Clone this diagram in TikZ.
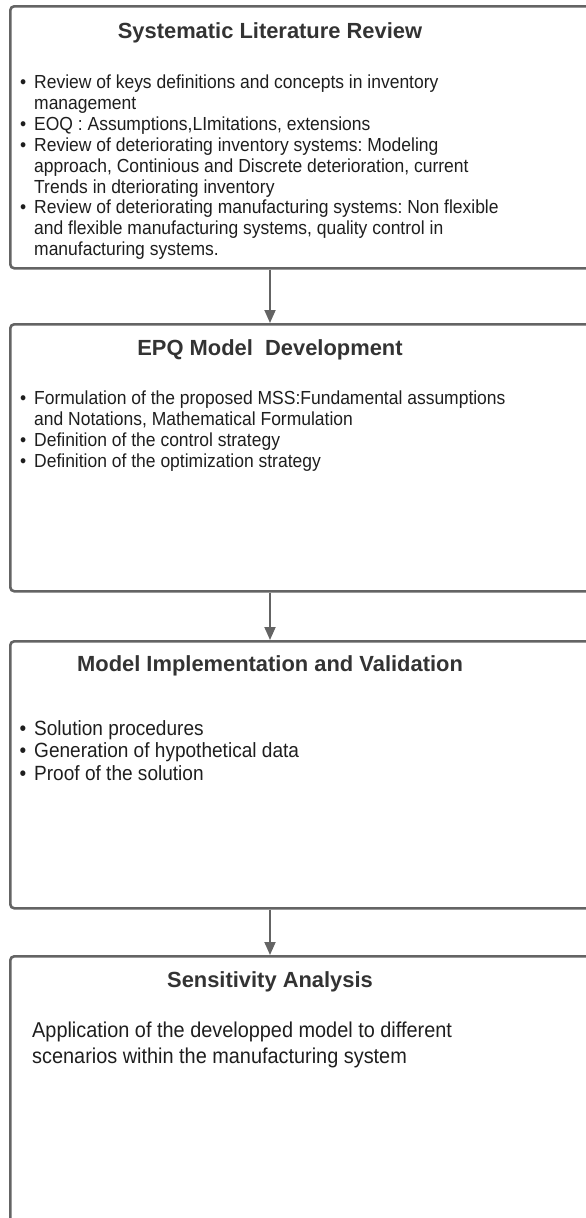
\documentclass[tikz,border=0pt]{standalone}
\usepackage{fontspec}
\setmainfont{Liberation Sans}
\newfontfamily\bodyfont[FakeStretch=0.925]{Liberation Sans}
\usetikzlibrary{arrows.meta}
\definecolor{frame}{HTML}{646464}
\definecolor{headtext}{HTML}{333333}
\definecolor{bodytext}{HTML}{1E1E1E}

% bullet hanging to the left of the text column
\newcommand{\bul}{\leavevmode\llap{\textbullet\hspace{8pt}}}
% text block whose baseline is that of its first line
\newcommand{\textblock}[3]{\begin{minipage}[t]{560pt}\bodyfont\fontsize{#1}{#2}\selectfont\frenchspacing\setlength{\parindent}{0pt}#3\end{minipage}}

\begin{document}
\begin{tikzpicture}[x=1pt,y=-1pt,
  panel/.style={draw=frame, line width=2.6pt, rounded corners=4pt, anchor=north west,
                minimum width=640pt, inner sep=0pt},
  heading/.style={font=\fontsize{21.9}{26}\selectfont\bfseries, text=headtext,
                  anchor=base, inner sep=0pt},
  body/.style={text=bodytext, anchor=base west, inner sep=0pt},
  flow/.style={draw=frame, line width=1.8pt, -{Triangle[width=11pt,length=13pt]}}]

\clip (0,0) rectangle (586,1218);

% panels
\node[panel, minimum height=262pt] (p1) at (9,5) {};
\node[panel, minimum height=267pt] (p2) at (9,323) {};
\node[panel, minimum height=267pt] (p3) at (9,640) {};
\node[panel, minimum height=340pt] (p4) at (9,955) {};

% headings
\node[heading] (h1) at (270,38) {Systematic Literature Review};
\node[heading] (h2) at (270,355) {EPQ Model\ \ Development};
\node[heading] (h3) at (270,671) {Model Implementation and Validation};
\node[heading] (h4) at (270,987) {Sensitivity Analysis};

% contents
\node[body] (c1) at (34,88.5) {\textblock{18.9}{20.9}{%
\bul Review of keys definitions and concepts in inventory\\ management\par
\bul EOQ : Assumptions,LImitations, extensions\par
\bul Review of deteriorating inventory systems: Modeling\\ approach, Continious and Discrete deterioration, current\\ Trends in dteriorating inventory\par
\bul Review of deteriorating manufacturing systems: Non flexible\\ and flexible manufacturing systems, quality control in\\ manufacturing systems.}};

\node[body] (c2) at (34,404) {\textblock{18.9}{21}{%
\bul Formulation of the proposed MSS:Fundamental assumptions\\ and Notations, Mathematical Formulation\par
\bul Definition of the control strategy\par
\bul Definition of the optimization strategy}};

\node[body] (c3) at (34,735) {\textblock{20.6}{22.5}{%
\bul Solution procedures\par
\bul Generation of hypothetical data\par
\bul Proof of the solution}};

\node[body] (c4) at (32,1037) {\textblock{21.5}{26}{%
Application of the developped model to different\\ scenarios within the manufacturing system}};

% connectors
\draw[flow] (p1.south -| h1) -- (p2.north -| h2);
\draw[flow] (p2.south -| h2) -- (p3.north -| h3);
\draw[flow] (p3.south -| h3) -- (p4.north -| h4);
\end{tikzpicture}
\end{document}
